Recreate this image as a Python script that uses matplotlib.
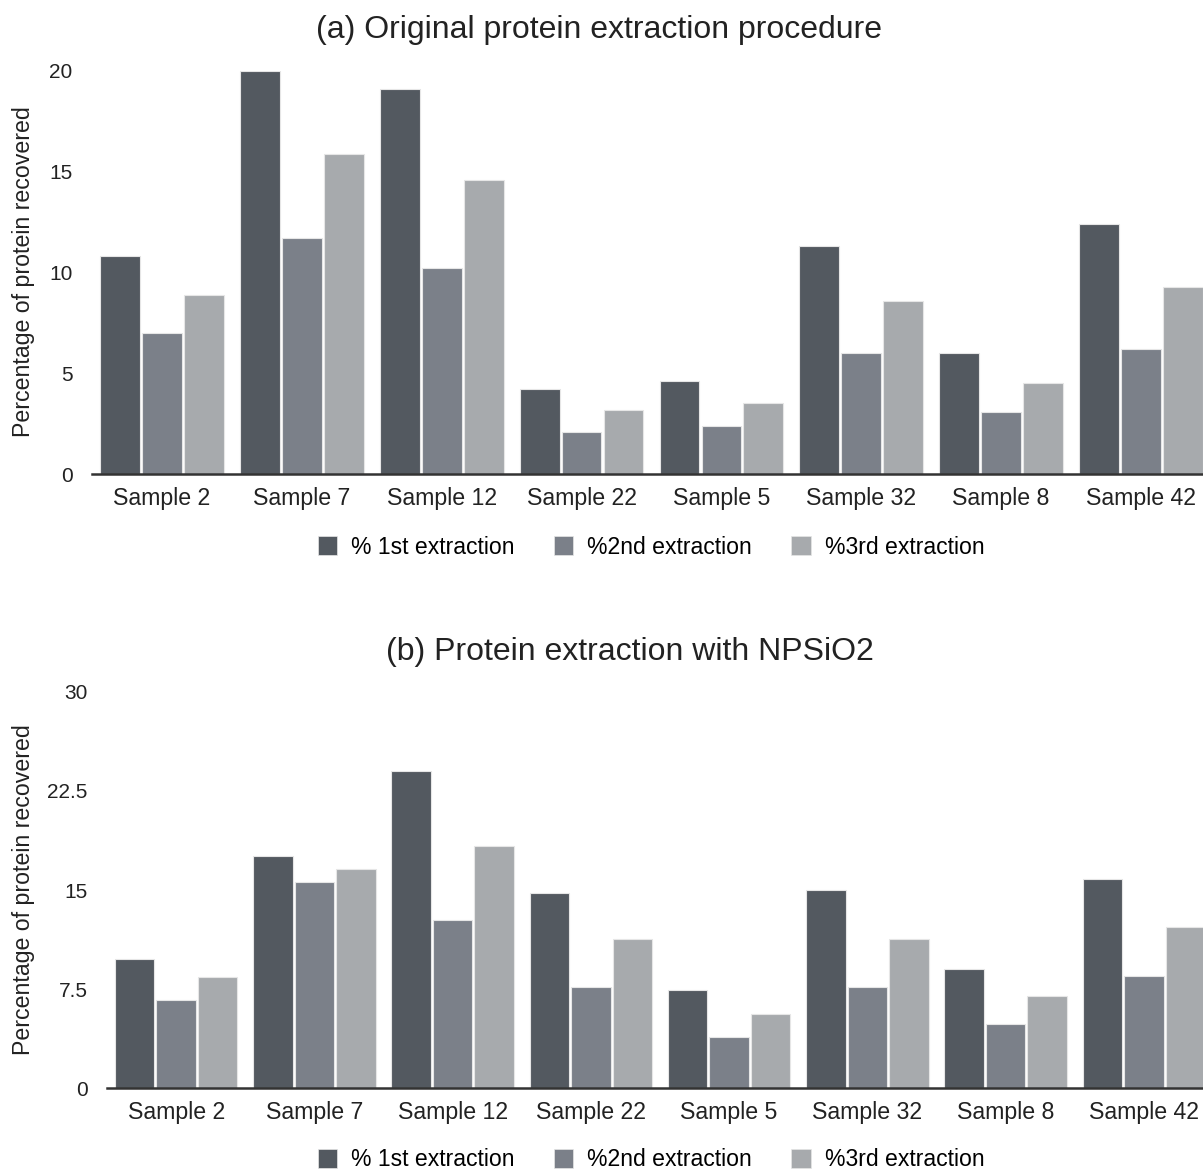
import numpy as np
import matplotlib
matplotlib.use('Agg')
import matplotlib.pyplot as plt
from matplotlib.patches import Patch

plt.rcParams['font.family'] = ['Liberation Sans', 'DejaVu Sans']

samples = ['Sample 2', 'Sample 7', 'Sample 12', 'Sample 22', 'Sample 5', 'Sample 32', 'Sample 8', 'Sample 42']
series_names = ['% 1st extraction', '%2nd extraction', '%3rd extraction']

# (a) original procedure
orig_1st = [10.8, 20.0, 19.1, 4.2, 4.6, 11.3, 6.0, 12.4]
orig_2nd = [7.0, 11.7, 10.2, 2.1, 2.4, 6.0, 3.1, 6.2]
orig_3rd = [8.9, 15.9, 14.6, 3.2, 3.5, 8.6, 4.5, 9.3]

# (b) with NPSiO2
np_1st = [9.8, 17.6, 24.0, 14.8, 7.4, 15.0, 9.0, 15.8]
np_2nd = [6.7, 15.6, 12.7, 7.7, 3.9, 7.7, 4.9, 8.5]
np_3rd = [8.4, 16.6, 18.3, 11.3, 5.6, 11.3, 7.0, 12.2]

colors = ['#535960', '#7b8089', '#a7aaad']

W, H = 1203, 1171
fig = plt.figure(figsize=(W / 100, H / 100), dpi=100)


def draw_panel(rect, data, ymax, yticks, yticklabels, title, title_x, title_y, ylabel_y, legend_y):
    ax = fig.add_axes(rect)
    x = np.arange(len(samples))
    for i, vals in enumerate(data):
        ax.bar(x + (i - 1) * 0.30, vals, width=0.285, color=colors[i],
               edgecolor='#e6e6e6', linewidth=0.8, zorder=2)
    ax.set_xlim(-0.5, len(samples) - 0.5)
    ax.set_ylim(0, ymax)
    ax.set_xticks(x)
    ax.set_xticklabels(samples, fontsize=16.7, color='#222222')
    ax.set_yticks(yticks)
    ax.set_yticklabels(yticklabels, fontsize=15, color='#222222')
    ax.tick_params(axis='both', length=0)
    ax.tick_params(axis='x', pad=9)
    ax.tick_params(axis='y', pad=14)
    for s in ['top', 'right', 'left']:
        ax.spines[s].set_visible(False)
    ax.spines['bottom'].set_linewidth(1.8)
    ax.spines['bottom'].set_color('#333333')
    ax.spines['bottom'].set_zorder(3)
    fig.text(title_x / W, 1 - title_y / H, title, fontsize=23, ha='center', va='center', color='#222222')
    fig.text(24 / W, 1 - ylabel_y / H, 'Percentage of protein recovered', rotation=90,
             fontsize=16.7, ha='center', va='center', color='#222222')
    handles = [Patch(facecolor=c, edgecolor='#e6e6e6', linewidth=0.5) for c in colors]
    fig.legend(handles, series_names, loc='center', bbox_to_anchor=(651 / W, 1 - legend_y / H),
               ncol=3, frameon=False, fontsize=16.6, handlelength=0.85, handleheight=0.85,
               handletextpad=0.6, columnspacing=1.7)
    return ax


draw_panel([92 / W, 1 - 474 / H, 1119 / W, 403 / H],
           [orig_1st, orig_2nd, orig_3rd], 20, [0, 5, 10, 15, 20], ['0', '5', '10', '15', '20'],
           '(a) Original protein extraction procedure', 599, 30, 272, 547)

draw_panel([107 / W, 1 - 1088.3 / H, 1106 / W, 396.6 / H],
           [np_1st, np_2nd, np_3rd], 30, [0, 7.5, 15, 22.5, 30], ['0', '7.5', '15', '22.5', '30'],
           '(b) Protein extraction with NPSiO2', 630, 652, 890, 1160)

fig.savefig('out.png', dpi=100)
